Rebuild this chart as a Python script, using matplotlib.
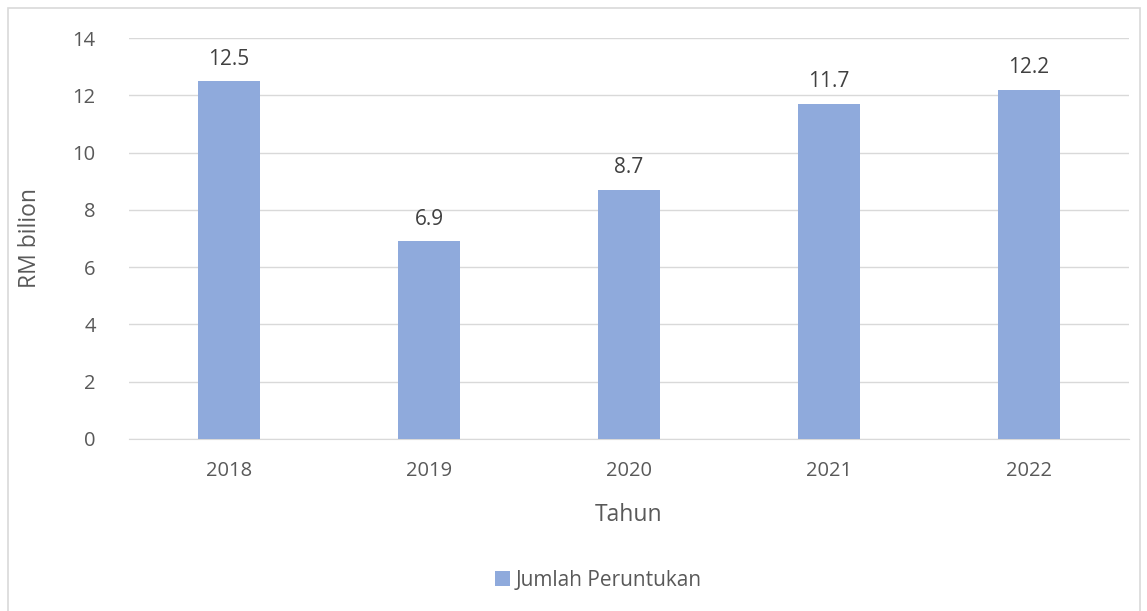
import matplotlib
matplotlib.use("Agg")
import matplotlib.pyplot as plt
from matplotlib.patches import Rectangle

years = ["2018", "2019", "2020", "2021", "2022"]
values = [12.5, 6.9, 8.7, 11.7, 12.2]
series_name = "Jumlah Peruntukan"
y_ticks = [0, 2, 4, 6, 8, 10, 12, 14]

plt.rcParams['font.family'] = ['Open Sans', 'DejaVu Sans']
text_col = "#595959"
bar_col = "#8FAADC"
grid_col = "#D9D9D9"

W, H = 1147, 611
fig = plt.figure(figsize=(W/100, H/100), dpi=100)
fig.patches.append(Rectangle((8/W, -0.01), (1140-8)/W, 1 - 8/H + 0.01, transform=fig.transFigure,
                             fill=False, edgecolor="#D9D9D9", linewidth=1.2))

ax = fig.add_axes([129/W, 1-439/H, 1000/W, (439-38)/H])
x = list(range(len(years)))
bars = ax.bar(x, values, width=0.31, color=bar_col, label=series_name, zorder=3)
for xi, v in zip(x, values):
    ax.text(xi, v + 0.40, f"{v}", ha="center", va="bottom", fontsize=15, color="#404040")

ax.set_xlim(-0.5, len(years) - 0.5)
ax.set_ylim(0, 14)
ax.set_yticks(y_ticks)
ax.set_xticks(x)
ax.set_xticklabels(years)
ax.grid(axis="y", color=grid_col, linewidth=1, zorder=0)
for s in ["top", "right", "left"]:
    ax.spines[s].set_visible(False)
ax.spines["bottom"].set_color(grid_col)
ax.tick_params(axis="both", length=0, labelsize=14.5, colors=text_col)
ax.tick_params(axis="y", pad=24)
ax.tick_params(axis="x", pad=16)
ax.set_xlabel("Tahun", fontsize=16.5, color=text_col, labelpad=16)
ax.set_ylabel("RM bilion", fontsize=16.5, color=text_col, labelpad=22)

fig.legend(handles=[bars], labels=[series_name], loc="center", bbox_to_anchor=(598/W, 1-580/H),
           frameon=False, fontsize=15, handlelength=0.75, handleheight=0.75, handletextpad=0.25,
           labelcolor=text_col)

fig.savefig("out.png", dpi=100)
